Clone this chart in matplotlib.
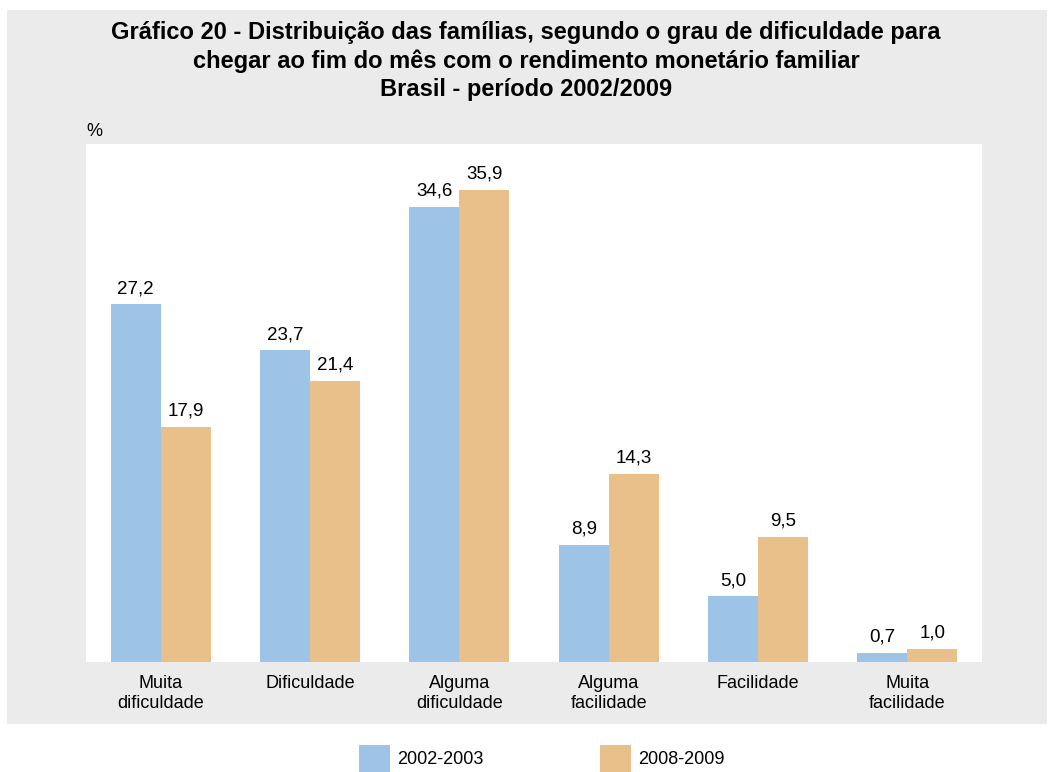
import matplotlib.pyplot as plt
from matplotlib.patches import Rectangle

categories = ['Muita\ndificuldade', 'Dificuldade', 'Alguma\ndificuldade',
              'Alguma\nfacilidade', 'Facilidade', 'Muita\nfacilidade']
v2003 = [27.2, 23.7, 34.6, 8.9, 5.0, 0.7]
v2009 = [17.9, 21.4, 35.9, 14.3, 9.5, 1.0]
series_names = ['2002-2003', '2008-2009']

blue = '#9dc3e6'
orange = '#e9c08a'
gray = '#ebebeb'

plt.rcParams['font.family'] = ['Liberation Sans', 'DejaVu Sans']

W, H = 1052, 772
fig = plt.figure(figsize=(W / 100, H / 100), dpi=100)
fig.patch.set_facecolor('white')

# gray panel behind the chart
fig.patches.append(Rectangle((7 / W, 1 - 724 / H), 1040 / W, 714 / H,
                             transform=fig.transFigure, facecolor=gray,
                             edgecolor='none', zorder=-5))

ax = fig.add_axes([86 / W, 1 - 662 / H, 896 / W, 518 / H])
ax.set_facecolor('white')

w = 0.335
x = range(len(categories))
b1 = ax.bar([i - w / 2 for i in x], v2003, width=w, color=blue)
b2 = ax.bar([i + w / 2 for i in x], v2009, width=w, color=orange)

for bars, vals in ((b1, v2003), (b2, v2009)):
    for bar, v in zip(bars, vals):
        ax.text(bar.get_x() + bar.get_width() / 2, v + 0.55,
                f'{v:.1f}'.replace('.', ','), ha='center', va='bottom',
                fontsize=13.5)

ax.set_xlim(-0.5, 5.5)
ax.set_ylim(0, 39.4)
ax.set_yticks([])
ax.set_xticks(list(x))
ax.set_xticklabels(categories, fontsize=13, linespacing=1.25)
ax.tick_params(axis='x', length=0, pad=9)
for s in ax.spines.values():
    s.set_visible(False)

fig.text(86 / W, 1 - 131 / H, '%', fontsize=13, ha='left', va='center')

fig.text(0.5, 1 - 61 / H,
         'Gráfico 20 - Distribuição das famílias, segundo o grau de dificuldade para\n'
         'chegar ao fim do mês com o rendimento monetário familiar\n'
         'Brasil - período 2002/2009',
         fontsize=17, fontweight='bold', ha='center', va='center',
         linespacing=1.3)

# legend
for x0, col, name in ((359, blue, series_names[0]), (600, orange, series_names[1])):
    fig.patches.append(Rectangle((x0 / W, 1 - 772 / H), 31 / W, 27 / H,
                                 transform=fig.transFigure, facecolor=col,
                                 edgecolor='none'))
    fig.text((x0 + 38) / W, 1 - 759 / H, name, fontsize=13,
             ha='left', va='center')

fig.savefig('out.png', dpi=100, facecolor=fig.get_facecolor())
